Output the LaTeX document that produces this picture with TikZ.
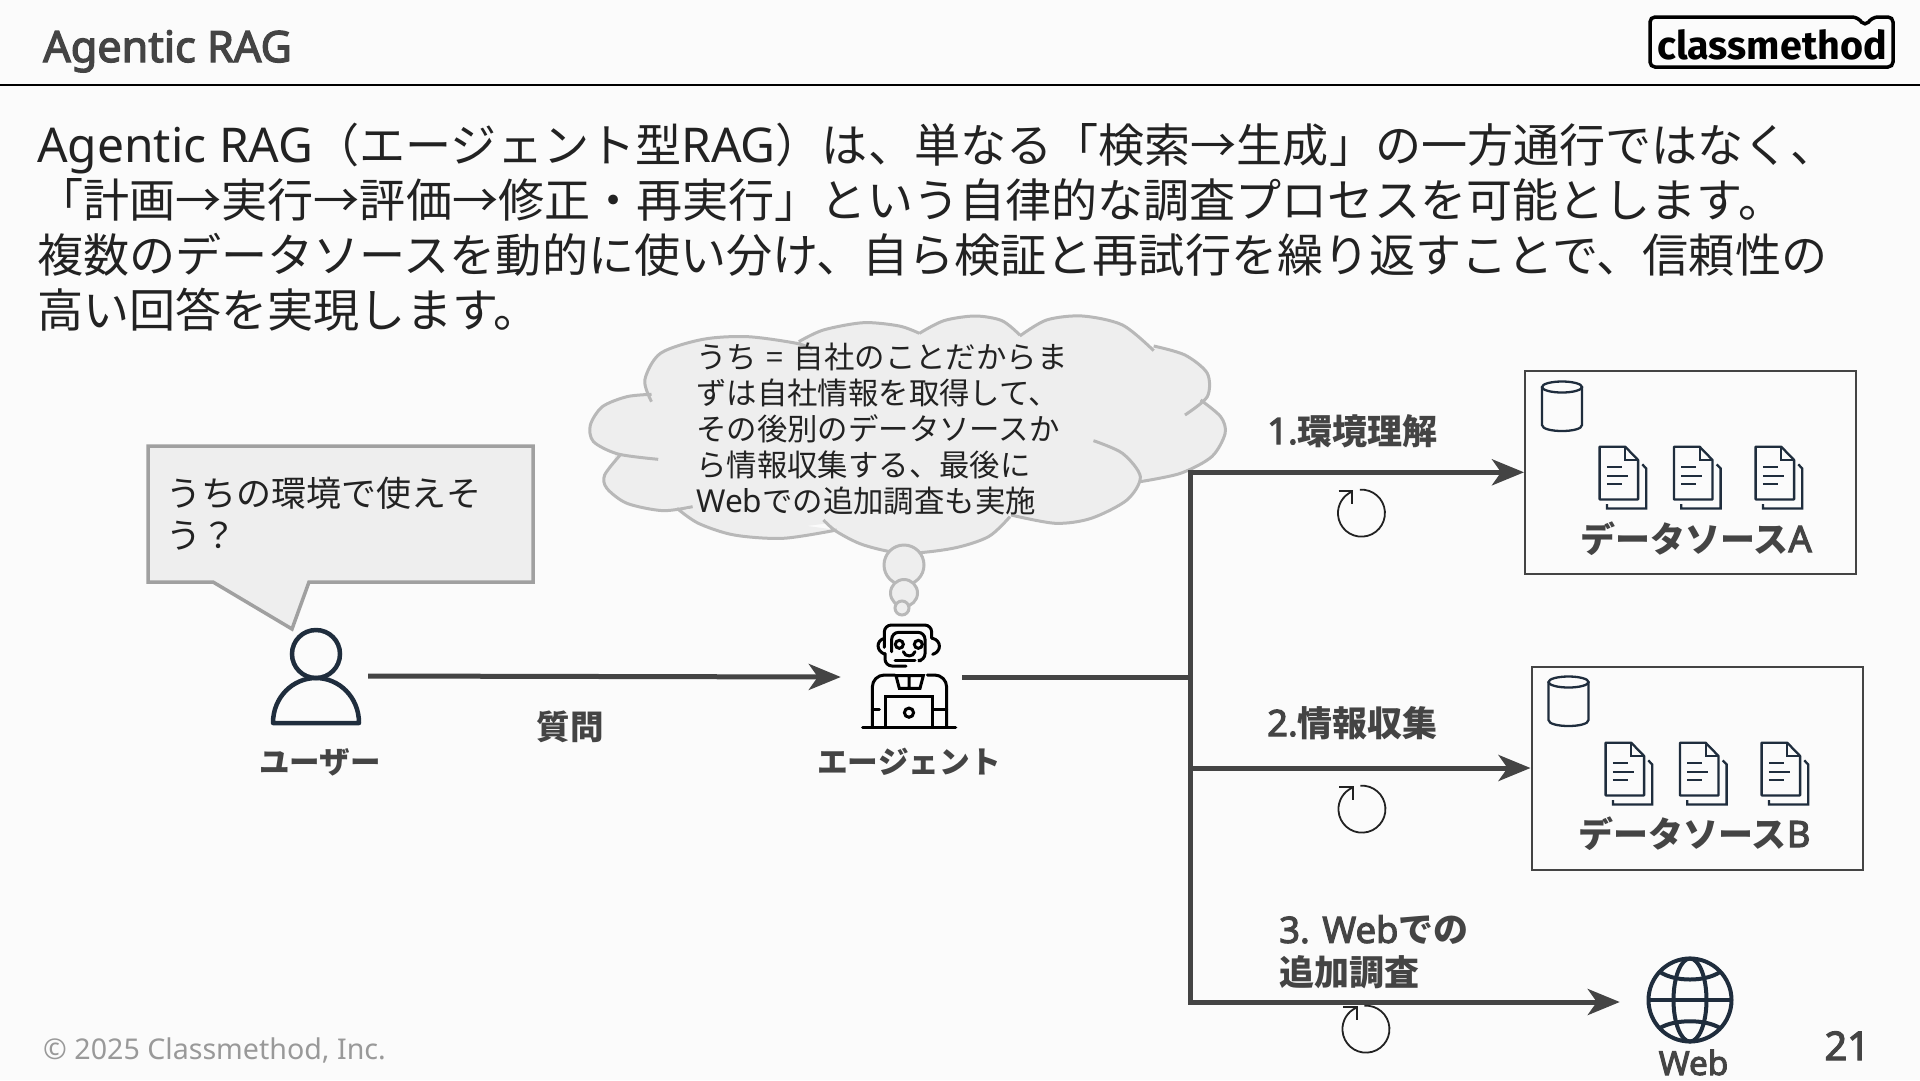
\documentclass[tikz,border=0pt]{standalone}
\usepackage{fontspec}
\setmainfont{Noto Sans CJK JP}
\newfontfamily\latfont{Noto Sans}[Scale=1.04]
\newfontfamily\latbold{Noto Sans}[Scale=1.04,FakeBold=3]
\newfontfamily\logofont{Fira Sans}
\newcommand{\lat}[1]{{\latfont #1}}
\newcommand{\latb}[1]{{\latbold #1}}
\usetikzlibrary{arrows.meta,positioning}

\definecolor{pagebg}{HTML}{FBFBFB}
\definecolor{bodyink}{HTML}{222222}
\definecolor{labelink}{HTML}{444444}
\definecolor{footink}{HTML}{999999}
\definecolor{bubblefill}{HTML}{EEEEEE}
\definecolor{cloudline}{HTML}{B8B8B8}
\definecolor{calloutline}{HTML}{A0A0A0}
\definecolor{iconink}{HTML}{1F2D3D}

\tikzset{
	flowline/.style={draw=labelink, line width=5pt},
	flowarrow/.style={flowline, -{Stealth[length=32pt,width=26pt,inset=9pt]}},
	iconbox/.style={inner sep=0pt, minimum height=2pt},
	boldlabel/.style={inner sep=0pt, text=labelink, font=\fontsize{#1}{43}\selectfont\bfseries},
	sourcebox/.style={draw=labelink, line width=2pt, minimum width=331pt, minimum height=203pt, inner sep=0pt},
	cycleicon/.pic={
		\draw[line width=1.8pt, draw=bodyink] (-1.7,-23.3) arc[start angle=94, end angle=-247, radius=23.5pt];
		\draw[line width=1.8pt, draw=bodyink] (-23,-21.7) -- (-9.4,-21.7) -- (-9.4,-9.4);
	},
	dbicon/.pic={
		\draw[line width=2.3pt, draw=iconink] (0,-19) ellipse[x radius=20pt, y radius=5.5pt];
		\draw[line width=2.3pt, draw=iconink] (-20,-19) -- (-20,19) .. controls (-20,27) and (20,27) .. (20,19) -- (20,-19);
	},
	docicon/.pic={
		\draw[line width=2.3pt, draw=iconink, line join=round] (0,0) -- (25.6,0) -- (38.5,13.3) -- (38.5,52.7) -- (0,52.7) -- cycle;
		\draw[line width=2pt, draw=iconink] (25.6,0) -- (25.6,13.3) -- (38.5,13.3);
		\draw[line width=2.3pt, draw=iconink] (42.7,17.7) -- (46.6,21.7) -- (46.6,61.7) -- (7.3,61.7) -- (7.3,57.3);
		\draw[line width=2pt, draw=iconink] (7.3,20.7) -- (22,20.7) (7.3,29.3) -- (28,29.3) (7.3,37.7) -- (22,37.7);
	},
}

% cloud outline, one plot per lobe
\newcommand{\cloudlobes}{
	plot[smooth] coordinates {(205,305) (190,240) (225,160) (320,118) (420,110) (530,130) (565,148)}
	plot[smooth] coordinates {(535,125) (590,90) (680,68) (760,78) (805,100)}
	plot[smooth] coordinates {(805,100) (860,62) (930,48) (990,62) (1030,105)}
	plot[smooth] coordinates {(1030,108) (1090,60) (1170,48) (1260,75) (1330,152)}
	plot[smooth] coordinates {(1330,138) (1400,165) (1450,220) (1450,290) (1400,345)}
	plot[smooth] coordinates {(1435,300) (1480,350) (1490,400) (1460,470) (1390,520) (1300,545)}
	plot[smooth] coordinates {(1195,422) (1260,460) (1300,530) (1270,600) (1190,655) (1110,670) (1010,645)}
	plot[smooth] coordinates {(1008,650) (960,710) (880,745) (770,760) (680,735) (620,695) (590,660)}
	plot[smooth] coordinates {(620,690) (500,715) (390,705) (310,670) (262,625)}
	plot[smooth] coordinates {(297,620) (230,632) (150,610) (105,565) (100,525) (135,465)}
	plot[smooth] coordinates {(220,478) (130,462) (75,425) (68,375) (95,320) (150,290) (205,283)}
}

\begin{document}
\begin{tikzpicture}[x=1pt, y=-1pt]
	\useasboundingbox (0,0) rectangle (1920,1080);
	\fill[pagebg] (0,0) rectangle (1920,1080);

	% header
	\node[inner sep=0pt, anchor=base west, text=labelink, font=\fontsize{41.5}{45}\selectfont\latbold] (title) at (43,62) {Agentic RAG};
	\draw[line width=2pt, draw=black] (0,85) -- (1920,85);
	\draw[line width=3.5pt, rounded corners=5pt] (1650,17) -- (1857,17) -- (1865,26) -- (1873,17) -- (1893,17) -- (1893,67) -- (1650,67) -- cycle;
	\node[inner sep=0pt, anchor=base, font=\fontsize{39.5}{45}\selectfont\bfseries\logofont] (logo) at (1772,59) {classmethod};

	% intro text
	\node[inner sep=0pt, anchor=north west, align=left, text=bodyink, font=\fontsize{46.1}{55}\selectfont] (intro) at (37,123) {%
		\lat{Agentic RAG}（エージェント型\lat{RAG}）は、単なる「検索→生成」の一方通行ではなく、\\
		「計画→実行→評価→修正・再実行」という自律的な調査プロセスを可能とします。\\
		複数のデータソースを動的に使い分け、自ら検証と再試行を繰り返すことで、信頼性の\\
		高い回答を実現します。};

	% user side
	\draw[fill=bubblefill, draw=calloutline, line width=3.5pt, line join=miter] (148,446) -- (533,446) -- (533,582) -- (309,582) -- (292,629) -- (213,582) -- (148,582) -- cycle;
	\node[inner sep=0pt, anchor=north west, align=left, text=bodyink, font=\fontsize{35}{42}\selectfont] (ask) at (166.5,476.5) {うちの環境で使えそ\\う？};
	\draw[iconink, line width=4.5pt] (316,654) circle[radius=24pt];
	\draw[iconink, line width=4.5pt, line join=round] (273,723) .. controls (273,697) and (293,678) .. (316,678) .. controls (339,678) and (359,697) .. (359,723) -- cycle;
	\node[iconbox, minimum width=100pt] (user) at (318,676) {};
	\node[boldlabel=30.5, anchor=base] (userlabel) at (320,773) {ユーザー};
	\node[boldlabel=33.5, anchor=base] (asklabel) at (570,739) {質問};

	% thought cloud
	\begin{scope}[shift={(560,300)}, x=0.4464pt, y=-0.3333pt]
		\fill[bubblefill] (205,290) -- (320,118) -- (535,125) -- (680,68) -- (805,100) -- (930,48) -- (1030,108) -- (1170,48) -- (1330,145) -- (1450,250) -- (1435,300) -- (1490,400) -- (1300,545) -- (1300,530) -- (1190,655) -- (1010,645) -- (770,760) -- (600,670) -- (390,705) -- (280,622) -- (105,565) -- (125,460) -- (68,375) -- cycle;
		\fill[bubblefill] \cloudlobes;
		\draw[cloudline, line width=3pt] \cloudlobes;
	\end{scope}
	\draw[fill=bubblefill, draw=cloudline, line width=3pt] (904,565) circle[radius=20pt];
	\draw[fill=bubblefill, draw=cloudline, line width=3pt] (904,593) circle[radius=13.5pt];
	\draw[fill=bubblefill, draw=cloudline, line width=3pt] (902,608) circle[radius=7pt];
	\node[inner sep=0pt, anchor=north west, align=left, text=bodyink, font=\fontsize{30.4}{36}\selectfont] (thought) at (696,343) {%
		うち\hspace{10pt}=\hspace{10pt}自社のことだからま\\
		ずは自社情報を取得して、\\
		その後別のデータソースか\\
		ら情報収集する、最後に\\
		\lat{Web}での追加調査も実施};

	% agent icon
	\begin{scope}[shift={(840,610)}, x=0.3333pt, y=-0.3333pt, line width=3pt, line cap=round]
		\draw[rounded corners=7pt] (133,112) -- (133,45) -- (275,45) -- (275,85);
		\draw (133,85) .. controls (108,92) and (108,122) .. (133,132);
		\draw (278,85) .. controls (305,92) and (305,125) .. (278,133);
		\draw[rounded corners=7pt] (155,125) -- (155,67) -- (255,67) -- (255,152) -- (243,152);
		\draw (165,152) -- (225,152);
		\draw[rounded corners=7pt] (135,130) -- (135,168) -- (198,168);
		\draw (178,103) circle[radius=4pt] (235,103) circle[radius=4pt];
		\draw (190,125) .. controls (195,142) and (220,142) .. (225,125);
		\draw[rounded corners=12pt] (165,195) -- (97,195) -- (97,350);
		\draw[rounded corners=12pt] (262,195) -- (320,195) -- (320,350);
		\draw (168,197) -- (250,197) -- (240,235) -- (178,235) -- cycle (207,197) -- (207,235);
		\draw (135,350) -- (135,260) -- (278,260) -- (278,350);
		\draw (207,308) circle[radius=4.6pt];
		\draw (97,298) -- (118,298) (283,298) -- (320,298);
		\draw[line width=3.2pt] (68,352) -- (347,352);
	\end{scope}
	\node[iconbox, minimum width=121pt] (agent) at (901.5,677) {};
	\node[boldlabel=30.7, anchor=base] (agentlabel) at (909,773) {エージェント};

	% data sources
	\node[sourcebox] (srcA) at (1690.5,472.3) {};
	\node[sourcebox] (srcB) at (1697,768) {};
	\node[iconbox, minimum width=140pt] (web) at (1690,1002) {};
	\pic at (1562,406) {dbicon};
	\pic at (1568.5,701) {dbicon};
	\foreach \docx in {1599.6,1674,1755.6} {
		\pic at (\docx,446.7) {docicon};
		\pic at (\docx+6,742.7) {docicon};
	}
	\node[boldlabel=35, anchor=base] (labelA) at (1696,552) {データソース\latb{A}};
	\node[boldlabel=35, anchor=base] (labelB) at (1694.5,847) {データソース\latb{B}};

	% web globe
	\begin{scope}[iconink, line width=4pt]
		\draw (1690,1000) circle[radius=41.5pt];
		\draw (1690,1000) ellipse[x radius=16.5pt, y radius=41.5pt];
		\draw (1648.5,1000) -- (1731.5,1000);
		\draw (1660,972) .. controls (1675,982) and (1705,982) .. (1720,972);
		\draw (1660,1028) .. controls (1675,1019) and (1705,1019) .. (1720,1028);
	\end{scope}
	\node[boldlabel=32, anchor=base] (weblabel) at (1693.5,1075) {\latb{Web}};

	% connectors
	\coordinate (hub) at (1190,677);
	\draw[flowarrow] (user.east) -- (agent.west);
	\draw[flowline] (agent.east) -- (hub);
	\draw[flowarrow] (hub) |- (srcA.west);
	\draw[flowarrow] (hub) |- (srcB.west);
	\draw[flowarrow] (hub) |- (web.west);

	% branch labels
	\node[boldlabel=35, anchor=base west] (stepA) at (1267,444) {\latb{1.}環境理解};
	\node[boldlabel=35, anchor=base west] (stepB) at (1267,736) {\latb{2.}情報収集};
	\node[boldlabel=35, anchor=north west, align=left] (stepC) at (1279,915) {\latb{3. Web}での\\追加調査};
	\pic at (1361.5,513) {cycleicon};
	\pic at (1362,809) {cycleicon};
	\pic at (1366,1029) {cycleicon};

	% footer
	\node[inner sep=0pt, anchor=base west, text=footink, font=\fontsize{27.5}{32}\selectfont\latfont] (copyright) at (43,1059) {© 2025 Classmethod, Inc.};
	\node[inner sep=0pt, anchor=base east, text=labelink, font=\fontsize{38}{45}\selectfont\latbold] (pageno) at (1870,1060) {21};
\end{tikzpicture}
\end{document}
